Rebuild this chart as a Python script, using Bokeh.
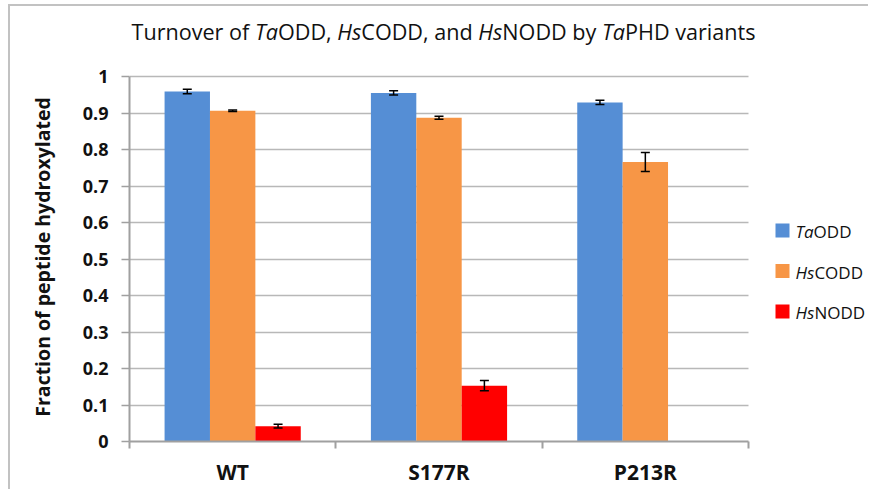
import os
import struct
import subprocess

from bokeh.plotting import figure
from bokeh.models import (Range1d, FixedTicker, SingleIntervalTicker, NumeralTickFormatter,
                          ColumnDataSource, Whisker, TeeHead, Label, BoxAnnotation)
from bokeh.embed import file_html
from bokeh.resources import INLINE

# ---------------- data ----------------
variants = ["WT", "S177R", "P213R"]
series_italic = ["Ta", "Hs", "Hs"]
series_rest = ["ODD", "CODD", "NODD"]
ta_odd = [0.959, 0.955, 0.929]
ta_odd_err = [0.006, 0.006, 0.006]
hs_codd = [0.906, 0.887, 0.766]
hs_codd_err = [0.002, 0.004, 0.026]
hs_nodd = [0.042, 0.153, float("nan")]
hs_nodd_err = [0.005, 0.014, float("nan")]
colors = ["#558ED5", "#F79646", "#FF0000"]
title_parts = [("Turnover of ", False), ("Ta", True), ("ODD, ", False), ("Hs", True),
               ("CODD, and ", False), ("Hs", True), ("NODD by ", False), ("Ta", True),
               ("PHD variants", False)]
y_label = "Fraction of peptide hydroxylated"
y_max = 1.0

FONT = "Open Sans"

# ---------------- font metrics helper ----------------
class _Metrics:
    def __init__(self, path):
        d = open(path, "rb").read()
        base = 0
        if d[:4] == b"ttcf":
            base = struct.unpack(">I", d[12:16])[0]
        n = struct.unpack(">H", d[base + 4:base + 6])[0]
        t = {}
        for i in range(n):
            o = base + 12 + 16 * i
            tag = d[o:o + 4].decode("latin-1")
            t[tag] = struct.unpack(">I", d[o + 8:o + 12])[0]
        self.upem = struct.unpack(">H", d[t["head"] + 18:t["head"] + 20])[0]
        nh = struct.unpack(">H", d[t["hhea"] + 34:t["hhea"] + 36])[0]
        hm = t["hmtx"]
        self.adv = [struct.unpack(">H", d[hm + 4 * i:hm + 4 * i + 2])[0] for i in range(nh)]
        self.d = d
        c = t["cmap"]
        nsub = struct.unpack(">H", d[c + 2:c + 4])[0]
        self.sub = None
        for i in range(nsub):
            pid, eid, off = struct.unpack(">HHI", d[c + 4 + 8 * i:c + 12 + 8 * i])
            fmt = struct.unpack(">H", d[c + off:c + off + 2])[0]
            if fmt == 4 and (pid == 0 or (pid == 3 and eid in (0, 1))):
                self.sub = c + off
                break
        if self.sub is None:
            raise ValueError("no cmap")

    def glyph(self, ch):
        d, s = self.d, self.sub
        code = ord(ch)
        segx2 = struct.unpack(">H", d[s + 6:s + 8])[0]
        ends = s + 14
        starts = ends + segx2 + 2
        deltas = starts + segx2
        ranges = deltas + segx2
        for i in range(segx2 // 2):
            end = struct.unpack(">H", d[ends + 2 * i:ends + 2 * i + 2])[0]
            if end >= code:
                start = struct.unpack(">H", d[starts + 2 * i:starts + 2 * i + 2])[0]
                if start > code:
                    return 0
                delta = struct.unpack(">h", d[deltas + 2 * i:deltas + 2 * i + 2])[0]
                ro = struct.unpack(">H", d[ranges + 2 * i:ranges + 2 * i + 2])[0]
                if ro == 0:
                    return (code + delta) & 0xFFFF
                a = ranges + 2 * i + ro + 2 * (code - start)
                g = struct.unpack(">H", d[a:a + 2])[0]
                return (g + delta) & 0xFFFF if g else 0
        return 0

    def width(self, text, size):
        tot = 0
        for ch in text:
            g = self.glyph(ch)
            tot += self.adv[min(g, len(self.adv) - 1)]
        return tot * size / self.upem


_cache = {}


def text_width(text, size, italic=False, bold=False):
    key = (italic, bold)
    if key not in _cache:
        m = None
        pat = FONT + (":bold" if bold else "") + (":italic" if italic else "")
        try:
            r = subprocess.run(["fc-match", "-f", "%{file}", pat], capture_output=True,
                               text=True, timeout=5)
            f = r.stdout.strip()
            if f and os.path.exists(f):
                m = _Metrics(f)
        except Exception:
            m = None
        _cache[key] = m
    m = _cache[key]
    if m is None:
        return 0.55 * size * len(text)
    return m.width(text, size)


# ---------------- layout (page pixels; the page has no margin) ----------------
PAGE_W, PAGE_H = 870, 491
OX, OY = 10, 6      # figure origin on the page (margin + grey frame border)
W, H = PAGE_W - OX, PAGE_H - OY
FL = 129            # page x of the y axis
FB = 441            # page y of value 0
PLOT_R = 748        # page x of the right end of the category area
Y1 = 76             # page y of value 1
px_per_cat = (PLOT_R - FL) / len(variants)
px_per_unit = (FB - Y1) / y_max


def sx(page_x):
    return page_x - FL


def sy(page_y):
    return FB - page_y


# frame covers everything right of the y axis and above the x axis so that
# title and legend (annotations) are not clipped
p = figure(width=W, height=H,
           x_range=Range1d(0, (PAGE_W - FL) / px_per_cat),
           y_range=Range1d(0, (FB - OY) / px_per_unit),
           output_backend="svg", toolbar_location=None,
           min_border_left=FL - OX, min_border_right=0, min_border_top=0,
           min_border_bottom=H - (FB - OY))
p.styles = {"margin-left": "8px", "margin-top": "4px",
            "border-left": "2px solid #c2c2c2", "border-top": "2px solid #c2c2c2"}
p.outline_line_color = None
p.background_fill_color = "white"
p.border_fill_color = "white"

# grid
p.xgrid.visible = False
yg = p.ygrid[0]
yg.grid_line_color = "#b8b8b8"
yg.grid_line_width = 1.6
try:
    yg.cross_bounds = (0, len(variants))
except Exception:
    pass

# y axis
ya = p.yaxis[0]
ya.bounds = (0, y_max)
ya.ticker = SingleIntervalTicker(interval=0.1, num_minor_ticks=0)
ya.formatter = NumeralTickFormatter(format="0.[0]")
ya.axis_line_color = "#a0a0a0"
ya.axis_line_width = 2
ya.major_tick_in = 0
ya.major_tick_out = 8
ya.major_tick_line_color = "#a0a0a0"
ya.major_tick_line_width = 1.6
ya.minor_tick_line_color = None
ya.major_label_text_font = FONT
ya.major_label_text_font_style = "bold"
ya.major_label_text_font_size = "18px"
ya.major_label_text_color = "#111111"
ya.major_label_standoff = 13

# the axis label is centred on the whole (taller) frame; pad its end with
# no-break spaces so that the visible words sit centred on the 0..1 span
ylab_size = 19.5
shift = (FB + Y1) / 2.0 - (FB + OY) / 2.0 - 3
nb_w = text_width("\u00a0", ylab_size, bold=True)
n_pad = int(round(2 * shift / nb_w)) if nb_w > 0 else 0
ya.axis_label = y_label + "\u00a0" * n_pad
ya.axis_label_text_font = FONT
ya.axis_label_text_font_style = "bold"
ya.axis_label_text_font_size = f"{ylab_size}px"
ya.axis_label_text_color = "#111111"
ya.axis_label_standoff = 24

# x axis
xa = p.xaxis[0]
centers = [i + 0.5 for i in range(len(variants))]
bounds = [float(i) for i in range(len(variants) + 1)]
xa.bounds = (0, len(variants))
xa.ticker = FixedTicker(ticks=centers, minor_ticks=bounds)
xa.major_label_overrides = {c: v for c, v in zip(centers, variants)}
xa.axis_line_color = "#a0a0a0"
xa.axis_line_width = 2
xa.major_tick_line_color = None
xa.major_tick_in = 0
xa.major_tick_out = 0
xa.minor_tick_in = 0
xa.minor_tick_out = 7
xa.minor_tick_line_color = "#a0a0a0"
xa.minor_tick_line_width = 2
xa.major_label_text_font = FONT
xa.major_label_text_font_style = "bold"
xa.major_label_text_font_size = "21px"
xa.major_label_text_color = "#111111"
xa.major_label_standoff = 9

# bars + error bars
bar_w = 0.22
offsets = [-bar_w, 0.0, bar_w]
all_vals = [ta_odd, hs_codd, hs_nodd]
all_errs = [ta_odd_err, hs_codd_err, hs_nodd_err]
for k in range(3):
    xs = [c + offsets[k] for c in centers]
    vals = all_vals[k]
    errs = all_errs[k]
    src = ColumnDataSource(dict(x=xs, top=vals,
                                upper=[v + e for v, e in zip(vals, errs)],
                                lower=[v - e for v, e in zip(vals, errs)]))
    p.vbar(x="x", top="top", width=bar_w, bottom=0, source=src,
           fill_color=colors[k], line_color=None)
    p.add_layout(Whisker(base="x", upper="upper", lower="lower", source=src,
                         level="overlay",
                         line_color="black", line_width=1.5,
                         upper_head=TeeHead(size=9, line_color="black", line_width=1.5),
                         lower_head=TeeHead(size=9, line_color="black", line_width=1.5)))

# title made of italic / upright pieces
title_size = 20
total = sum(text_width(t, 1, it) for t, it in title_parts)
if total > 0:
    title_size = min(24.0, max(16.0, 624.0 / total))
x_cur = sx(131)
for t, it in title_parts:
    p.add_layout(Label(x=x_cur, y=sy(31), x_units="screen", y_units="screen",
                       text=t.strip(), text_font=FONT, text_font_size=f"{title_size:.1f}px",
                       text_font_style="italic" if it else "normal",
                       text_color="#111111", text_baseline="alphabetic", text_align="left"))
    x_cur += text_width(t, title_size, it)

# legend
leg_size = 17
row_y = [232, 272.5, 313]
for k in range(3):
    cy = row_y[k] - 2
    p.add_layout(BoxAnnotation(left=sx(775), right=sx(789), top=sy(cy - 7), bottom=sy(cy + 7),
                               left_units="screen", right_units="screen",
                               top_units="screen", bottom_units="screen",
                               fill_color=colors[k], fill_alpha=1.0, line_color=None))
    x0 = sx(795)
    base = sy(row_y[k] - 1)
    p.add_layout(Label(x=x0, y=base, x_units="screen", y_units="screen",
                       text=series_italic[k], text_font=FONT, text_font_size=f"{leg_size}px",
                       text_font_style="italic", text_color="#111111",
                       text_baseline="alphabetic"))
    p.add_layout(Label(x=x0 + text_width(series_italic[k], leg_size, True), y=base,
                       x_units="screen", y_units="screen",
                       text=series_rest[k], text_font=FONT, text_font_size=f"{leg_size}px",
                       text_color="#111111", text_baseline="alphabetic"))

open("out.html", "w").write(file_html(p, INLINE))
